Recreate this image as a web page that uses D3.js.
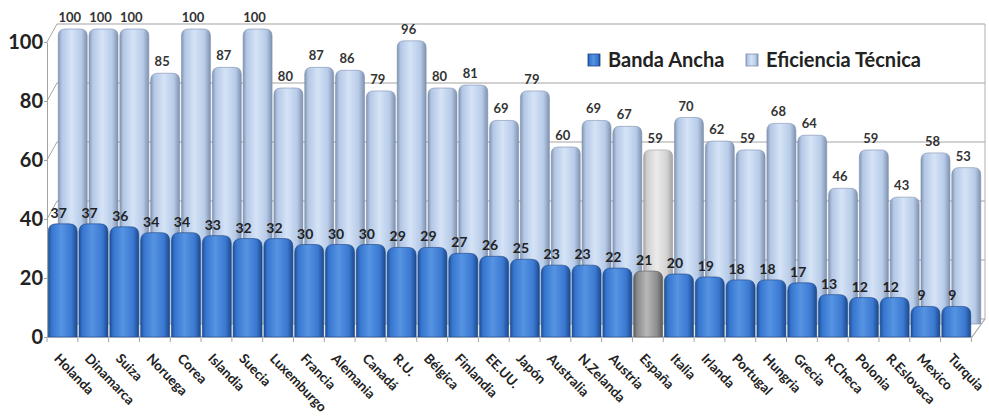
<!DOCTYPE html>
<html>
<head>
<meta charset="utf-8">
<script src="https://cdn.jsdelivr.net/npm/d3@7"></script>
<style>
  body { margin: 0; background: #fff; }
  svg { display: block; font-family: Lato, "Liberation Sans", sans-serif; }
</style>
</head>
<body>
<div id="chart"></div>
<script>
// Countries, ordered as in the picture
const countries = ['Holanda', 'Dinamarca', 'Suiza', 'Noruega', 'Corea', 'Islandia', 'Suecia', 'Luxemburgo',
  'Francia', 'Alemania', 'Canadá', 'R.U.', 'Bélgica', 'Finlandia', 'EE.UU.', 'Japón', 'Australia',
  'N.Zelanda', 'Austria', 'España', 'Italia', 'Irlanda', 'Portugal', 'Hungria', 'Grecia', 'R.Checa',
  'Polonia', 'R.Eslovaca', 'Mexico', 'Turquia'];
const bandaAncha = [37, 37, 36, 34, 34, 33, 32, 32, 30, 30, 30, 29, 29, 27, 26, 25, 23, 23, 22, 21,
  20, 19, 18, 18, 17, 13, 12, 12, 9, 9];
const eficiencia = [100, 100, 100, 85, 100, 87, 100, 80, 87, 86, 79, 96, 80, 81, 69, 79, 60, 69, 67, 59,
  70, 62, 59, 68, 64, 46, 59, 43, 58, 53];
const yTicks = [0, 20, 40, 60, 80, 100];
const highlight = 'España';

const width = 989, height = 418;
const depth = { dx: 10, dy: -18 }; // offset of the back wall
const frontLift = 4;   // cap of the front cylinders sticks up a bit
const backDrop = 5;    // back cylinders sit a bit lower than the back wall

const svg = d3.select('#chart').append('svg')
  .attr('width', width)
  .attr('height', height);

// scales
const x = d3.scaleBand().domain(countries).range([47, 972]).paddingInner(0.06).paddingOuter(0.04);
const y = d3.scaleLinear().domain([0, 100]).range([337, 42]);

// gradients for the cylinder-ish bars
const defs = svg.append('defs');
function grad(id, cols) {
  const g = defs.append('linearGradient').attr('id', id).attr('x1', 0).attr('x2', 1).attr('y1', 0).attr('y2', 0);
  [0, 0.12, 0.45, 0.8, 1].forEach((o, i) => g.append('stop').attr('offset', o).attr('stop-color', cols[i]));
}
grad('gBlue', ['#1f4f96', '#3676d0', '#5693e2', '#3b79d2', '#1c4a8c']);
grad('gLight', ['#8295b3', '#b3c7e5', '#d5e3f6', '#b7cbe8', '#7f91ad']);
grad('gGreyFront', ['#5e5e5e', '#8a8a8a', '#b8b8b8', '#8e8e8e', '#5a5a5a']);
grad('gGreyBack', ['#a8a8a8', '#d0d0d0', '#ececec', '#d2d2d2', '#a4a4a4']);

// back wall gridlines + left wall diagonals
const grid = svg.append('g');
yTicks.forEach(t => {
  grid.append('line')
    .attr('x1', x.range()[0] + depth.dx).attr('x2', x.range()[1] + depth.dx + 3)
    .attr('y1', y(t) + depth.dy).attr('y2', y(t) + depth.dy)
    .attr('stroke', '#a4a4a4').attr('stroke-width', 1.2);
  grid.append('line')
    .attr('x1', x.range()[0]).attr('x2', x.range()[0] + depth.dx)
    .attr('y1', y(t)).attr('y2', y(t) + depth.dy)
    .attr('stroke', '#a4a4a4').attr('stroke-width', 1);
});
// right edge of back wall
grid.append('line')
  .attr('x1', x.range()[1] + depth.dx + 3).attr('x2', x.range()[1] + depth.dx + 3)
  .attr('y1', y(100) + depth.dy).attr('y2', y(0) + depth.dy)
  .attr('stroke', '#b0b0b0');

// rounded-top bar path
function barPath(x0, w, top, bottom, r) {
  r = Math.min(r, (bottom - top), w / 2);
  return `M${x0},${bottom} V${top + r} Q${x0},${top} ${x0 + r},${top} H${x0 + w - r} Q${x0 + w},${top} ${x0 + w},${top + r} V${bottom} Z`;
}

const bw = x.bandwidth();

// back series: Eficiencia Técnica
const back = svg.append('g').attr('transform', `translate(${depth.dx},${depth.dy + backDrop})`);
back.selectAll('path')
  .data(countries)
  .join('path')
  .attr('d', (c, i) => barPath(x(c), bw, y(eficiencia[i]), y(0), 7))
  .attr('fill', c => c === highlight ? 'url(#gGreyBack)' : 'url(#gLight)')
  .attr('stroke', c => c === highlight ? '#9a9a9a' : '#7d8fae')
  .attr('stroke-width', 0.6);
back.selectAll('text')
  .data(countries)
  .join('text')
  .attr('x', c => x(c) + bw / 2 - 3)
  .attr('y', (c, i) => y(eficiencia[i]) - 7)
  .attr('text-anchor', 'middle')
  .attr('font-size', 13)
  .attr('font-weight', 'bold')
  .attr('fill', '#333')
  .text((c, i) => eficiencia[i]);

// floor
svg.append('path')
  .attr('d', `M${x.range()[0]},${y(0)} L${x.range()[1]},${y(0)} L${x.range()[1] + depth.dx + 3},${y(0) + depth.dy}`)
  .attr('fill', 'none').attr('stroke', '#a4a4a4').attr('stroke-width', 1.2);

// front series: Banda Ancha
const front = svg.append('g');
front.selectAll('path')
  .data(countries)
  .join('path')
  .attr('d', (c, i) => barPath(x(c), bw, y(bandaAncha[i]) - frontLift, y(0), 8))
  .attr('fill', c => c === highlight ? 'url(#gGreyFront)' : 'url(#gBlue)')
  .attr('stroke', c => c === highlight ? '#5a5a5a' : '#1d4580')
  .attr('stroke-width', 0.6);
front.selectAll('text')
  .data(countries)
  .join('text')
  .attr('x', c => x(c) + bw / 2 - 4)
  .attr('y', (c, i) => y(bandaAncha[i]) - frontLift - 6)
  .attr('text-anchor', 'middle')
  .attr('font-size', 14)
  .attr('font-weight', 'bold')
  .attr('fill', '#222')
  .text((c, i) => bandaAncha[i]);

// y axis
const yAxis = svg.append('g')
  .attr('transform', `translate(${x.range()[0]},0)`)
  .call(d3.axisLeft(y).tickValues(yTicks).tickSize(3).tickPadding(1).tickSizeOuter(0));
yAxis.select('.domain').attr('stroke', '#a4a4a4');
yAxis.selectAll('.tick line').attr('stroke', '#a4a4a4');
yAxis.selectAll('text')
  .attr('font-size', 20).attr('font-weight', 'bold').attr('fill', '#222')
  .attr('font-family', 'Lato, sans-serif');

// x axis (labels) + ticks at band boundaries
const xAxis = svg.append('g')
  .attr('transform', `translate(0,${y(0)})`)
  .call(d3.axisBottom(x).tickSize(0).tickSizeOuter(0));
xAxis.select('.domain').remove();
xAxis.selectAll('text')
  .attr('text-anchor', 'start')
  .attr('font-size', 13.5).attr('font-weight', 'bold').attr('fill', '#222')
  .attr('font-family', 'Lato, sans-serif')
  .attr('transform', 'translate(-6,19) rotate(46)')
  .attr('dy', '0.35em')
  .attr('y', 0);
const step = x.step();
svg.append('g').selectAll('line')
  .data(d3.range(countries.length + 1))
  .join('line')
  .attr('x1', i => x.range()[0] + i * step).attr('x2', i => x.range()[0] + i * step)
  .attr('y1', y(0)).attr('y2', y(0) + 5)
  .attr('stroke', '#a4a4a4');

// legend
const legend = svg.append('g').attr('transform', 'translate(588,60)');
const legendItems = [
  { name: 'Banda Ancha', fill: 'url(#gBlue)', stroke: '#1d4580', x: 0 },
  { name: 'Eficiencia Técnica', fill: 'url(#gLight)', stroke: '#7d8fae', x: 158 }
];
legendItems.forEach(d => {
  legend.append('rect')
    .attr('x', d.x).attr('y', -6).attr('width', 12).attr('height', 12)
    .attr('fill', d.fill).attr('stroke', d.stroke).attr('stroke-width', 0.8);
  legend.append('text')
    .attr('x', d.x + 20).attr('y', 0).attr('dy', '0.35em')
    .attr('font-size', 20).attr('font-weight', 'bold').attr('fill', '#222')
    .text(d.name);
});
</script>
</body>
</html>
